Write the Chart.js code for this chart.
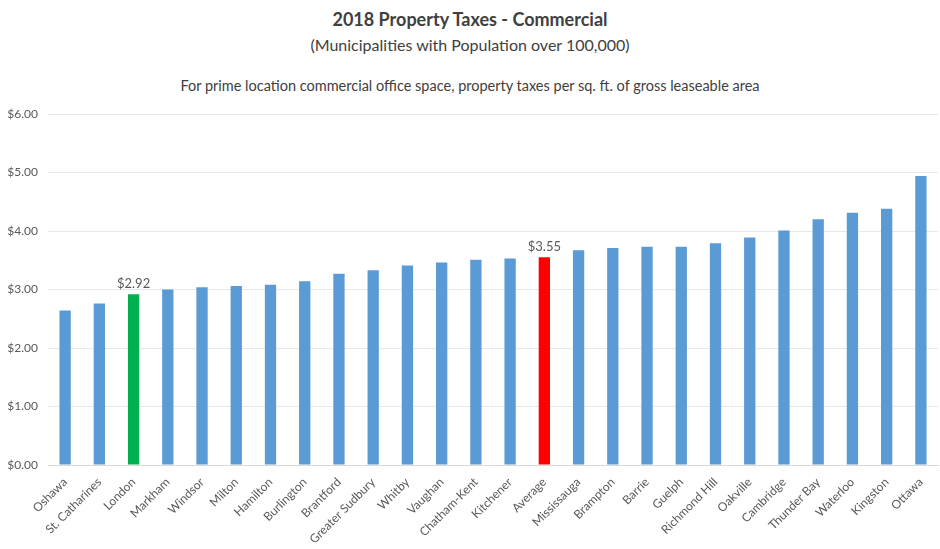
<!DOCTYPE html>
<html>
<head>
<meta charset="utf-8">
<script src="https://cdn.jsdelivr.net/npm/chart.js@4"></script>
<style>
  body { margin: 0; background: #fff; font-family: Lato, 'Open Sans', sans-serif; }
  #wrap { position: relative; width: 940px; height: 549px; }
  .t { position: absolute; left: 0; width: 940px; text-align: center; color: #404040; line-height: 1.2; }
  #title { top: 9px; font-size: 18px; font-weight: bold; }
  #sub { top: 35px; font-size: 16px; }
  #note { top: 77px; font-size: 14.5px; }
  canvas { position: absolute; left: 0; top: 0; }
</style>
</head>
<body>
<div id="wrap">
  <div class="t" id="title">2018 Property Taxes - Commercial</div>
  <div class="t" id="sub">(Municipalities with Population over 100,000)</div>
  <div class="t" id="note">For prime location commercial office space, property taxes per sq. ft. of gross leaseable area</div>
  <canvas id="chart" width="940" height="549"></canvas>
</div>
<script>
const municipalities = ['Oshawa', 'St. Catharines', 'London', 'Markham', 'Windsor', 'Milton', 'Hamilton', 'Burlington',
  'Brantford', 'Greater Sudbury', 'Whitby', 'Vaughan', 'Chatham-Kent', 'Kitchener', 'Average', 'Mississauga',
  'Brampton', 'Barrie', 'Guelph', 'Richmond Hill', 'Oakville', 'Cambridge', 'Thunder Bay', 'Waterloo', 'Kingston', 'Ottawa'];
const taxes = [2.64, 2.76, 2.92, 3.00, 3.04, 3.06, 3.08, 3.14, 3.27, 3.33, 3.41, 3.46, 3.51, 3.53, 3.55, 3.67,
  3.71, 3.73, 3.73, 3.79, 3.89, 4.01, 4.20, 4.31, 4.38, 4.94];
const labelled = ['London', 'Average'];
const yTicks = [0, 1, 2, 3, 4, 5, 6];

const barColors = municipalities.map(m => m === 'London' ? '#00b050' : m === 'Average' ? '#ff0000' : '#5b9bd5');
const money = v => '$' + v.toFixed(2);

// value labels above the highlighted bars
const valueLabels = {
  id: 'valueLabels',
  afterDatasetsDraw(chart) {
    const ctx = chart.ctx;
    const meta = chart.getDatasetMeta(0);
    ctx.save();
    ctx.font = '13px Lato, sans-serif';
    ctx.fillStyle = '#595959';
    ctx.textAlign = 'center';
    ctx.textBaseline = 'bottom';
    municipalities.forEach((m, i) => {
      if (!labelled.includes(m)) return;
      const bar = meta.data[i];
      ctx.fillText(money(taxes[i]), bar.x, bar.y - 4);
    });
    ctx.restore();
  }
};

new Chart(document.getElementById('chart'), {
  type: 'bar',
  data: {
    labels: municipalities,
    datasets: [{
      data: taxes,
      backgroundColor: barColors,
      barPercentage: 1,
      categoryPercentage: 0.33
    }]
  },
  options: {
    responsive: false,
    animation: false,
    layout: { padding: { top: 114, right: 2, left: 0, bottom: 0 } },
    plugins: { legend: { display: false }, tooltip: { enabled: false } },
    scales: {
      x: {
        grid: { display: false },
        border: { color: '#d9d9d9' },
        ticks: { color: '#595959', font: { family: 'Lato', size: 12 }, minRotation: 45, maxRotation: 45, padding: 2 },
        afterFit: s => { s.height = 84; }
      },
      y: {
        min: 0,
        max: 6,
        afterBuildTicks: s => { s.ticks = yTicks.map(v => ({ value: v })); },
        grid: { color: '#e8e8e8', drawTicks: false },
        border: { display: false },
        ticks: { color: '#595959', font: { family: 'Lato', size: 12 }, padding: 10, callback: v => money(v) },
        afterFit: s => { s.width = 48; }
      }
    }
  },
  plugins: [valueLabels]
});
</script>
</body>
</html>
